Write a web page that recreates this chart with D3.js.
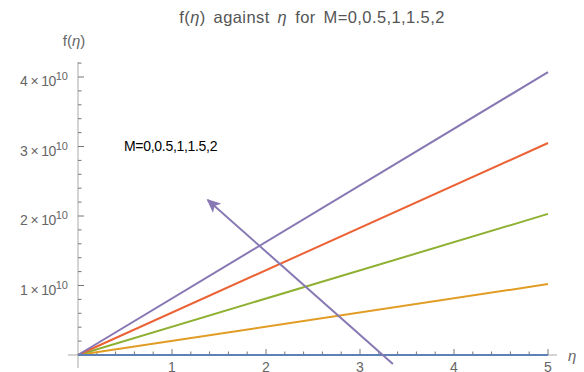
<!DOCTYPE html>
<html>
<head>
<meta charset="utf-8">
<script src="https://cdn.jsdelivr.net/npm/d3@7"></script>
<style>
  body { margin: 0; background: #fff; }
  text { font-family: "Liberation Sans", Arial, sans-serif; }
</style>
</head>
<body>
<svg id="chart" width="584" height="372"></svg>
<script>
"use strict";

// data
let etaValues = [0, 5]
let mValues = [0, 0.5, 1, 1.5, 2]
let fSeries = [
  [0, 0],
  [0, 1.02e10],
  [0, 2.03e10],
  [0, 3.05e10],
  [0, 4.07e10]
]
let seriesColors = ["#5E81B5", "#E19C24", "#8FB032", "#EB6235", "#8778B3"]
let xTicks = [1, 2, 3, 4, 5]
let yTicks = [1, 2, 3, 4]   // in units of 10^10
let arrowFrom = [3.35, -0.13e10]
let arrowTo = [1.38, 2.23e10]

let svg = d3.select("#chart")

let x = d3.scaleLinear().domain([0, 5]).range([78, 548])
let y = d3.scaleLinear().domain([0, 4e10]).range([355, 77])

let axisColor = "#777"
let labelColor = "#666"

// axes lines, a little past the origin like Mathematica does
svg.append("line")
    .attr("x1", 68).attr("x2", 557)
    .attr("y1", y(0)).attr("y2", y(0))
    .attr("stroke", "#aaa").attr("stroke-width", 1)
svg.append("line")
    .attr("x1", x(0)).attr("x2", x(0))
    .attr("y1", 62).attr("y2", 368)
    .attr("stroke", "#aaa").attr("stroke-width", 1)

// x ticks (inward)
let xMinor = d3.range(1, 26).map(d => d / 5)
svg.append("g").selectAll("line").data(xMinor).join("line")
    .attr("x1", d => x(d)).attr("x2", d => x(d))
    .attr("y1", y(0)).attr("y2", d => y(0) - (Number.isInteger(d) ? 6 : 3.5))
    .attr("stroke", axisColor)
svg.append("g").selectAll("text").data(xTicks).join("text")
    .attr("x", d => x(d)).attr("y", 372)
    .attr("text-anchor", "middle")
    .attr("font-size", 14).attr("fill", labelColor)
    .text(d => d)

// y ticks (inward)
let yMinor = d3.range(1, 22).map(d => d * 0.2e10)
svg.append("g").selectAll("line").data(yMinor).join("line")
    .attr("x1", x(0)).attr("x2", d => x(0) + (Math.abs(d / 1e10 - Math.round(d / 1e10)) < 1e-6 ? 6 : 3.5))
    .attr("y1", d => y(d)).attr("y2", d => y(d))
    .attr("stroke", axisColor)
let yLab = svg.append("g").selectAll("text").data(yTicks).join("text")
    .attr("x", 68).attr("y", d => y(d * 1e10) + 9)
    .attr("text-anchor", "end")
    .attr("font-size", 14).attr("fill", labelColor)
yLab.append("tspan").text(d => d + " \u00d7 10")
    .attr("letter-spacing", -0.6)
yLab.append("tspan").text("10").attr("dy", -6).attr("font-size", 11)

// series lines
let line = d3.line().x((d, i) => x(etaValues[i])).y(d => y(d))
let order = [1, 2, 3, 4, 0]
svg.append("g").selectAll("path").data(order).join("path")
    .attr("d", k => line(fSeries[k]))
    .attr("fill", "none")
    .attr("stroke", k => seriesColors[k])
    .attr("stroke-width", 2)

// arrow
svg.append("defs").append("marker")
    .attr("id", "arrowhead")
    .attr("viewBox", "0 0 10 10")
    .attr("refX", 9).attr("refY", 5)
    .attr("markerWidth", 7).attr("markerHeight", 7)
    .attr("markerUnits", "strokeWidth")
    .attr("orient", "auto")
  .append("path")
    .attr("d", "M0,0.5 L10,5 L0,9.5 L2.5,5 Z")
    .attr("fill", "#8778B3")
svg.append("line")
    .attr("x1", x(arrowFrom[0])).attr("y1", y(arrowFrom[1]))
    .attr("x2", x(arrowTo[0])).attr("y2", y(arrowTo[1]))
    .attr("stroke", "#8778B3").attr("stroke-width", 2)
    .attr("marker-end", "url(#arrowhead)")

// annotation
svg.append("text")
    .attr("x", 124).attr("y", 151)
    .attr("font-size", 14).attr("letter-spacing", -0.3)
    .attr("fill", "#000")
    .text("M=" + mValues.join(","))

// title
let title = svg.append("text")
    .attr("x", 312).attr("y", 23)
    .attr("text-anchor", "middle")
    .attr("font-size", 16.5).attr("fill", "#555")
    .attr("letter-spacing", 0.4).attr("word-spacing", 3)
title.append("tspan").text("f(")
title.append("tspan").text("\u03b7").attr("font-style", "italic")
title.append("tspan").text(") against  ")
title.append("tspan").text("\u03b7").attr("font-style", "italic")
title.append("tspan").text(" for M=" + mValues.join(","))

// axis labels
let yTitle = svg.append("text")
    .attr("x", 74).attr("y", 46)
    .attr("text-anchor", "middle")
    .attr("font-size", 15).attr("fill", labelColor)
yTitle.append("tspan").text("f(")
yTitle.append("tspan").text("\u03b7").attr("font-style", "italic")
yTitle.append("tspan").text(")")

svg.append("text")
    .attr("x", 568).attr("y", 361)
    .attr("font-size", 15).attr("font-style", "italic").attr("fill", labelColor)
    .text("\u03b7")
</script>
</body>
</html>
